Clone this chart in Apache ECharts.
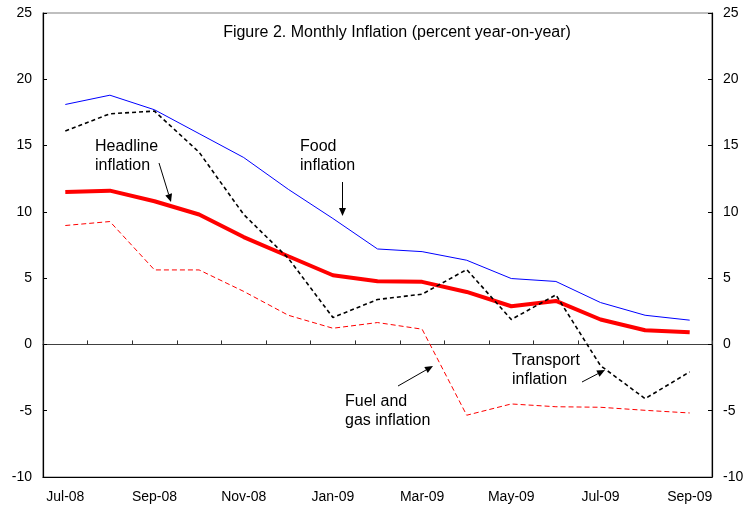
<!DOCTYPE html>
<html>
<head>
<meta charset="utf-8">
<script src="https://cdn.jsdelivr.net/npm/echarts@6/dist/echarts.min.js"></script>
<style>html,body{margin:0;padding:0;background:#fff;}#chart{width:749px;height:505px;}</style>
</head>
<body>
<div id="chart"></div>
<script>
const categories = ['Jul-08','Aug-08','Sep-08','Oct-08','Nov-08','Dec-08','Jan-09','Feb-09','Mar-09','Apr-09','May-09','Jun-09','Jul-09','Aug-09','Sep-09'];
const food      = [18.1, 18.8, 17.7, 15.9, 14.1, 11.7, 9.5, 7.2, 7.0, 6.35, 4.97, 4.75, 3.16, 2.2, 1.83];
const headline  = [11.5, 11.6, 10.8, 9.8, 8.1, 6.65, 5.22, 4.77, 4.72, 3.96, 2.88, 3.28, 1.88, 1.07, 0.92];
const transport = [16.1, 17.4, 17.6, 14.5, 9.8, 6.5, 2.03, 3.39, 3.79, 5.65, 1.88, 3.74, -1.6, -4.09, -2.07];
const fuel      = [8.97, 9.27, 5.62, 5.62, 4.0, 2.2, 1.22, 1.65, 1.15, -5.34, -4.49, -4.7, -4.74, -4.97, -5.17];
const yTicks = {min: -10, max: 25, interval: 5};

const FONT = 'Liberation Sans, Arial, sans-serif';

function arrow(x1, y1, x2, y2) {
  const a = Math.atan2(y2 - y1, x2 - x1);
  const L = 8, W = 3.5;
  const bx = x2 - L * Math.cos(a), by = y2 - L * Math.sin(a);
  const px = -Math.sin(a) * W, py = Math.cos(a) * W;
  return [
    {type: 'line', shape: {x1: x1, y1: y1, x2: bx, y2: by}, style: {stroke: '#000', lineWidth: 1}, z: 100},
    {type: 'polygon', shape: {points: [[x2, y2], [bx + px, by + py], [bx - px, by - py]]}, style: {fill: '#000'}, z: 100}
  ];
}
function label(x, y, lines) {
  return lines.map((t, i) => ({type: 'text', x: x, y: y + i * 19, style: {text: t, font: '16px ' + FONT, fill: '#000', textVerticalAlign: 'middle'}, z: 100}));
}

const chart = echarts.init(document.getElementById('chart'));
const yAxisCommon = {
  type: 'value', min: yTicks.min, max: yTicks.max, interval: yTicks.interval,
  axisLine: {show: true, lineStyle: {color: '#000', width: 1.2}},
  axisTick: {show: true, inside: true, length: 4, lineStyle: {color: '#000'}},
  axisLabel: {color: '#000', fontSize: 14, fontFamily: FONT, margin: 11},
  splitLine: {show: false}
};
chart.setOption({
  animation: false,
  backgroundColor: '#fff',
  grid: {left: 43, right: 37, top: 13, bottom: 28, show: true, borderColor: '#808080', borderWidth: 1.2, backgroundColor: 'transparent'},
  xAxis: [
    {type: 'category', data: categories, position: 'bottom', boundaryGap: true,
     axisLine: {show: true, onZero: true, lineStyle: {color: '#404040', width: 1.2}},
     axisTick: {show: true, inside: true, length: 4, alignWithLabel: false, interval: 0, lineStyle: {color: '#303030'}},
     axisLabel: {show: false}, splitLine: {show: false}},
    {type: 'category', data: categories, position: 'bottom', boundaryGap: true,
     axisLine: {show: true, onZero: false, lineStyle: {color: '#000', width: 1.2}},
     axisTick: {show: false},
     axisLabel: {show: true, interval: 1, color: '#000', fontSize: 14, fontFamily: FONT, margin: 13},
     splitLine: {show: false}}
  ],
  yAxis: [
    Object.assign({}, yAxisCommon, {position: 'left'}),
    Object.assign({}, yAxisCommon, {position: 'right'})
  ],
  series: [
    {name: 'Fuel and gas inflation', type: 'line', data: fuel, symbol: 'none', lineStyle: {color: '#ff0000', width: 1, type: [5, 3]}, z: 2},
    {name: 'Food inflation', type: 'line', data: food, symbol: 'none', lineStyle: {color: '#0000ff', width: 1}, z: 3},
    {name: 'Transport inflation', type: 'line', data: transport, symbol: 'none', lineStyle: {color: '#000', width: 1.6, type: [4, 3]}, z: 5},
    {name: 'Headline inflation', type: 'line', data: headline, symbol: 'none', lineStyle: {color: '#ff0000', width: 4}, z: 4}
  ],
  graphic: [
    {type: 'text', x: 397, y: 33, style: {text: 'Figure 2. Monthly Inflation (percent year-on-year)', font: '16px ' + FONT, fill: '#000', textAlign: 'center', textVerticalAlign: 'middle'}, z: 100}
  ].concat(
    label(95, 147, ['Headline', 'inflation']),
    arrow(159, 163, 171, 202),
    label(300, 147, ['Food', 'inflation']),
    arrow(342.5, 182, 342.5, 216),
    label(345, 402, ['Fuel and', 'gas inflation']),
    arrow(398, 386, 433, 366),
    label(512, 361, ['Transport', 'inflation']),
    arrow(582, 382, 605, 370)
  )
});
</script>
</body>
</html>
